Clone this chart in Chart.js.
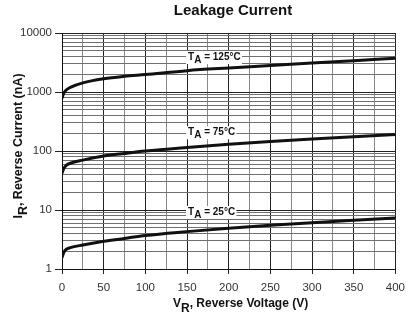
<!DOCTYPE html>
<html>
<head>
<meta charset="utf-8">
<script src="https://cdn.jsdelivr.net/npm/chart.js@4/dist/chart.umd.min.js"></script>
<style>
  html, body { margin: 0; padding: 0; background: #fff; }
  #wrap { width: 412px; height: 324px; }
</style>
</head>
<body>
<div id="wrap"><canvas id="leakage-chart" width="412" height="324"></canvas></div>
<script>
// Reverse voltage (V) sample points
const voltage = [0, 2, 5, 10, 25, 50, 75, 100, 150, 200, 250, 300, 350, 400];

// Reverse current (nA)
const current125 = [780, 950, 1080, 1200, 1430, 1680, 1850, 1980, 2300, 2550, 2800, 3100, 3400, 3750];
const current75  = [42, 50, 57, 62, 70, 82, 91, 100, 115, 130, 145, 160, 175, 190];
const current25  = [1.55, 1.9, 2.15, 2.3, 2.55, 2.95, 3.3, 3.7, 4.3, 4.9, 5.5, 6.1, 6.7, 7.3];

const seriesNames = ['125', '75', '25'];
const decadeTicks = [1, 10, 100, 1000, 10000];

const FONT = '"Liberation Sans", Arial, sans-serif';

function toPoints(values) {
    return voltage.map((v, i) => ({ x: v, y: values[i] }));
}

function isDecade(v) {
    return decadeTicks.includes(Math.round(v * 1000) / 1000);
}

/**
 * Draw text with a lowered subscript part
 */
function drawSubText(ctx, x, y, main, sub, rest, size) {
    ctx.font = 'bold ' + size + 'px ' + FONT;
    ctx.fillText(main, x, y);
    x += ctx.measureText(main).width;
    ctx.fillText(sub, x, y + size * 0.35);
    x += ctx.measureText(sub).width;
    ctx.fillText(rest, x, y);
    return x + ctx.measureText(rest).width;
}

function subTextWidth(ctx, main, sub, rest, size) {
    ctx.font = 'bold ' + size + 'px ' + FONT;
    return ctx.measureText(main + sub + rest).width;
}

// Titles, axis titles and curve labels
const textPlugin = {
    id: 'leakageText',
    afterDatasetsDraw(chart) {
        const ctx = chart.ctx;
        const xs = chart.scales.x, ys = chart.scales.y;
        ctx.save();
        ctx.fillStyle = '#111';
        ctx.textBaseline = 'middle';

        // chart title
        ctx.font = 'bold 15px ' + FONT;
        ctx.textAlign = 'center';
        ctx.fillText('Leakage Current', 233, 11);
        ctx.textAlign = 'left';

        // x axis title
        drawSubText(ctx, 173, 304, 'V', 'R', ', Reverse Voltage (V)', 12);

        // y axis title (rotated)
        ctx.save();
        ctx.translate(19, 146);
        ctx.rotate(-Math.PI / 2);
        const w = subTextWidth(ctx, 'I', 'R', ', Reverse Current (nA)', 12.5);
        drawSubText(ctx, -w / 2, 0, 'I', 'R', ', Reverse Current (nA)', 12.5);
        ctx.restore();

        // curve labels with white boxes
        const labelPos = [[150, 3760], [150, 200], [150, 8.9]];
        seriesNames.forEach((name, i) => {
            const px = xs.getPixelForValue(labelPos[i][0]);
            const py = ys.getPixelForValue(labelPos[i][1]);
            const lw = subTextWidth(ctx, 'T', 'A', ' = ' + name + '°C', 10) + 4;
            ctx.fillStyle = '#fff';
            ctx.fillRect(px - 1, py - 7, lw, 13);
            ctx.fillStyle = '#111';
            drawSubText(ctx, px + 1, py - 1, 'T', 'A', ' = ' + name + '°C', 10);
        });
        ctx.restore();
    }
};

const lineStyle = {
    borderColor: '#111',
    borderWidth: 3,
    pointRadius: 0,
    fill: false,
    cubicInterpolationMode: 'monotone'
};

new Chart(document.getElementById('leakage-chart'), {
    type: 'line',
    data: {
        datasets: [
            Object.assign({ label: '125', data: toPoints(current125) }, lineStyle),
            Object.assign({ label: '75', data: toPoints(current75) }, lineStyle),
            Object.assign({ label: '25', data: toPoints(current25) }, lineStyle)
        ]
    },
    options: {
        responsive: false,
        animation: false,
        events: [],
        layout: { padding: { top: 33, right: 12, left: 0, bottom: 0 } },
        plugins: {
            legend: { display: false },
            tooltip: { enabled: false },
            title: { display: false }
        },
        scales: {
            x: {
                type: 'linear',
                min: 0,
                max: 400,
                afterFit(scale) { scale.height = 55; },
                border: { color: '#111', width: 1 },
                grid: {
                    color: ctx => (ctx.tick && ctx.tick.value % 50 === 0) ? '#222' : '#8a8a8a',
                    tickColor: ctx => (ctx.tick && ctx.tick.value % 50 === 0) ? '#222' : 'rgba(0,0,0,0)',
                    lineWidth: 1,
                    tickLength: 5
                },
                ticks: {
                    stepSize: 25,
                    autoSkip: false,
                    maxRotation: 0,
                    padding: 7,
                    color: '#333',
                    font: { family: FONT, size: 11.5 },
                    callback: v => (v % 50 === 0 ? String(v) : '')
                }
            },
            y: {
                type: 'logarithmic',
                min: 1,
                max: 10000,
                afterFit(scale) { scale.width = 62; },
                border: { color: '#111', width: 1 },
                grid: {
                    color: ctx => (ctx.tick && isDecade(ctx.tick.value)) ? '#222' : '#707070',
                    tickColor: ctx => (ctx.tick && isDecade(ctx.tick.value)) ? '#222' : 'rgba(0,0,0,0)',
                    lineWidth: 1,
                    tickLength: 7
                },
                ticks: {
                    autoSkip: false,
                    padding: 3,
                    color: '#333',
                    font: { family: FONT, size: 11.5 },
                    callback: v => (isDecade(v) ? String(v) : '')
                },
                afterBuildTicks(scale) {
                    // full 1..9 mantissa grid in every decade
                    const ticks = [];
                    for (let d = 1; d < 10000; d *= 10) {
                        for (let m = 1; m < 10; m++) ticks.push({ value: m * d });
                    }
                    ticks.push({ value: 10000 });
                    scale.ticks = ticks;
                }
            }
        }
    },
    plugins: [textPlugin]
});
</script>
</body>
</html>
